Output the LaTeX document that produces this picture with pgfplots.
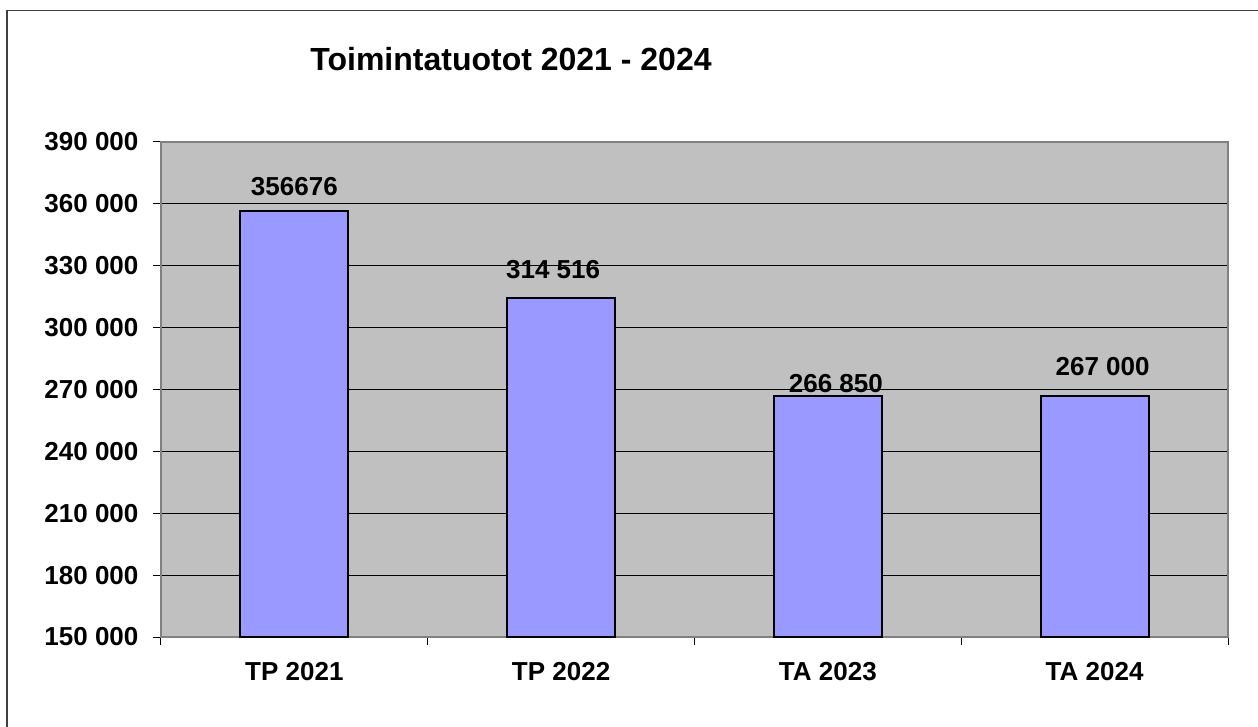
\documentclass[border=0pt]{standalone}
\usepackage{pgfplots}
\pgfplotsset{compat=1.18}
\usepackage{fontspec}
\setmainfont{Liberation Sans}
\definecolor{plotbg}{HTML}{C0C0C0}
\definecolor{barfill}{HTML}{9999FF}
\definecolor{frame}{HTML}{808080}
\begin{document}
\begin{tikzpicture}
\path[use as bounding box] (0,0) rectangle (629pt,-363.5pt);
\draw[black!75, line width=0.8pt] (3.5pt,-363.5pt) -- (3.5pt,-5.3pt) -- (629pt,-5.3pt);
\node[font=\fontsize{16}{19}\selectfont\bfseries] at (255.5pt,-29.5pt) {Toimintatuotot 2021 - 2024};
\begin{axis}[
  at={(80.5pt,-318.5pt)}, anchor=south west,
  scale only axis, width=533.5pt, height=247.5pt,
  xmin=-0.5, xmax=3.5, ymin=150000, ymax=390000,
  ytick={150000,180000,...,390000},
  xtick={-0.5,0.5,1.5,2.5,3.5}, xticklabels={},
  extra x ticks={0,1,2,3},
  extra x tick labels={TP 2021,TP 2022,TA 2023,TA 2024},
  extra x tick style={major tick length=0pt, grid=none},
  xtick pos=left, ytick pos=left,
  tick align=outside, major tick length=3.75pt,
  tick style={black, line width=0.5pt},
  ymajorgrids, grid style={black, line width=0.5pt},
  axis background/.style={fill=plotbg},
  axis line style={draw=frame, line width=1pt},
  scaled y ticks=false,
  /pgf/number format/assume math mode=true,
  yticklabel={\pgfmathprintnumber[fixed,1000 sep={\ }]{\tick}},
  tick label style={font=\fontsize{13}{15}\selectfont\bfseries},
  y tick label style={xshift=-4pt},
  x tick label style={yshift=-9pt},
  clip=false,
]
\addplot[ybar, bar width=54pt, bar shift=0pt, fill=barfill, draw=black, line width=1.1pt]
  coordinates {(0,356676) (1,314516) (2,266850) (3,267000)};
\addplot[only marks, mark=none, point meta=explicit symbolic,
  nodes near coords, nodes near coords align={center},
  every node near coord/.append style={anchor=center, inner sep=0pt, font=\fontsize{13}{15}\selectfont\bfseries}]
  table[meta=label, col sep=comma] {
x,y,label
0,368182,356676
0.97,327939,314 516
2.03,272909,266 850
3.03,281152,267 000
};
\end{axis}
\end{tikzpicture}
\end{document}
